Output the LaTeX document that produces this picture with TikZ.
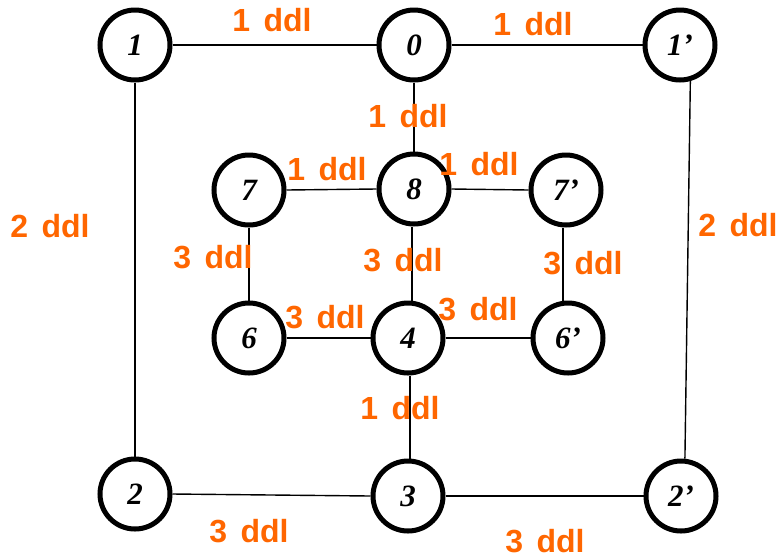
\documentclass[tikz,border=0pt]{standalone}
\usepackage{fontspec}
\setmainfont{Liberation Serif}
\newfontfamily\labfont{Liberation Sans}
\definecolor{ddlorange}{HTML}{FF6600}
\newcommand{\ddlt}[1]{#1\hspace{0.42em}ddl}
\begin{document}
\begin{tikzpicture}[x=1pt,y=-1pt,
  vtx/.style={circle,draw=black,line width=5pt,minimum size=70pt,inner sep=0pt,
    font=\fontsize{31}{34}\selectfont\bfseries\itshape},
  edge/.style={draw=black,line width=1.4pt},
  ddl/.style={text=ddlorange,inner sep=0pt,font=\labfont\bfseries\fontsize{32}{36}\selectfont}]
\useasboundingbox (0,0) rectangle (779,558);
% nodes
\node[vtx] (n1)  at (135,45)  {1};
\node[vtx] (n0)  at (414,45)  {0};
\node[vtx] (n1p) at (680,45)  {1’};
\node[vtx] (n7)  at (249,190) {7};
\node[vtx] (n8)  at (414,189) {8};
\node[vtx] (n7p) at (566,190) {7’};
\node[vtx] (n6)  at (249,338) {6};
\node[vtx] (n4)  at (408,338) {4};
\node[vtx] (n6p) at (568,338) {6’};
\node[vtx] (n2)  at (135,494) {2};
\node[vtx] (n3)  at (408,496) {3};
\node[vtx] (n2p) at (681,496) {2’};
% edges
\draw[edge] (n1.east) -- (n0.west);
\draw[edge] (n0.east) -- (n1p.west);
\draw[edge] (n0.south) -- (n8.north);
\draw[edge] (n1.south) -- (n2.north);
\draw[edge] (n1p.-74) -- (n2p.84);
\draw[edge] (n7.east) -- (n8.west);
\draw[edge] (n8.east) -- (n7p.west);
\draw[edge] (n7.south) -- (n6.north);
\draw[edge] ([xshift=-2pt]n8.south) -- ([xshift=4pt]n4.north);
\draw[edge] ([xshift=-3pt]n7p.south) -- ([xshift=-5pt]n6p.north);
\draw[edge] (n6.east) -- (n4.west);
\draw[edge] (n4.east) -- (n6p.west);
\draw[edge] ([xshift=2pt]n4.south) -- ([xshift=2pt]n3.north);
\draw[edge] (n2.east) -- (n3.west);
\draw[edge] (n3.east) -- (n2p.west);
% labels
\node[ddl] (l10)   at (272,20)  {\ddlt{1}};
\node[ddl] (l01p)  at (533,24)  {\ddlt{1}};
\node[ddl] (l08)   at (408,116) {\ddlt{1}};
\node[ddl] (l78)   at (327,169) {\ddlt{1}};
\node[ddl] (l87p)  at (479,164) {\ddlt{1}};
\node[ddl] (l76)   at (213,257) {\ddlt{3}};
\node[ddl] (l84)   at (403,260) {\ddlt{3}};
\node[ddl] (l7p6p) at (583,263) {\ddlt{3}};
\node[ddl] (l64)   at (325,317) {\ddlt{3}};
\node[ddl] (l46p)  at (478,309) {\ddlt{3}};
\node[ddl] (l43)   at (400,408) {\ddlt{1}};
\node[ddl] (l12)   at (50,226)  {\ddlt{2}};
\node[ddl] (l1p2p) at (738,225) {\ddlt{2}};
\node[ddl] (l23)   at (249,531) {\ddlt{3}};
\node[ddl] (l32p)  at (545,541) {\ddlt{3}};
\end{tikzpicture}
\end{document}
